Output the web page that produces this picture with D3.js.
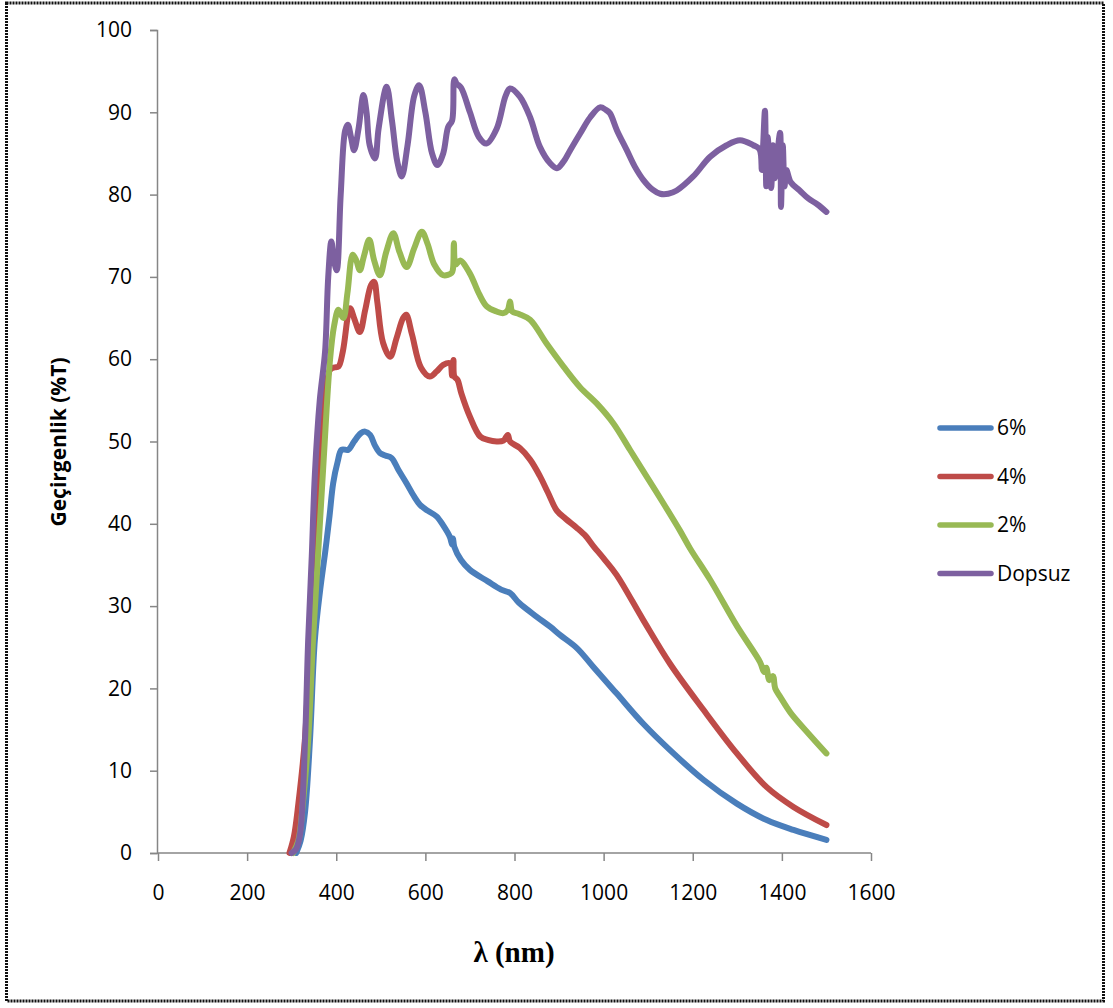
<!DOCTYPE html>
<html>
<head>
<meta charset="utf-8">
<script src="https://cdn.jsdelivr.net/npm/d3@7"></script>
<style>
  body { margin: 0; background: #fff; }
  svg { display: block; }
</style>
</head>
<body>
<div id="chart"></div>
<script>
// series values: [wavelength nm, transmittance %]
const seriesNames = ["6%", "4%", "2%", "Dopsuz"];
const seriesColors = ["#4a7ebb", "#be4b48", "#98b954", "#7d60a0"];

const data6 = [[310,0],[320,1.5],[330,5],[341,13.7],[352,25.9],[364,32],[375,36.5],[385,41],[393,44.9],[403,47.5],[412,49],[427,49],[440,50],[455,51],[465,51.2],[476,50.8],[487,49.5],[498,48.6],[510,48.3],[524,48],[540,46.5],[558,44.9],[575,43.3],[588,42.3],[605,41.6],[625,40.9],[640,39.8],[655,38.4],[660,37.5],[662,38.2],[665,37.2],[680,35.6],[700,34.4],[740,33],[770,32],[790,31.6],[810,30.4],[850,28.7],[880,27.5],[902,26.5],[940,24.9],[977,22.6],[1029,19.4],[1089,15.7],[1149,12.5],[1224,8.9],[1299,6.0],[1366,4.0],[1426,2.8],[1500,1.6]];

const data4 = [[295,0],[305,2],[315,6],[330,14],[340,25],[350,37],[360,47],[372,54],[386,58.7],[395,59],[405,59.1],[415,61],[431,66.2],[440,65],[453,63.3],[465,66],[478,69],[485,69.4],[492,67],[505,62],[521,60.3],[535,62.5],[550,65],[557,65.4],[570,63],[590,59],[610,57.9],[625,58.5],[640,59.3],[655,59.5],[660,58],[663,59.9],[665,57.9],[672,57.5],[681,55.8],[700,53],[723,50.6],[740,50.2],[760,50],[775,50.1],[785,50.8],[790,50],[812,49.2],[835,47.8],[857,45.8],[875,43.8],[895,41.6],[915,40.6],[940,39.5],[960,38.5],[977,37.3],[1000,35.8],[1029,33.8],[1089,28.3],[1149,23],[1224,17.4],[1299,12.1],[1366,8],[1426,5.6],[1500,3.4]];

const data2 = [[303,0],[315,1.5],[325,6],[337,13.7],[348,26],[360,37],[372,48],[386,59.9],[395,64],[405,66],[416,65],[425,68],[437,72.7],[445,72],[453,70.8],[462,72.5],[474,74.5],[485,72],[498,70.2],[512,73],[528,75.3],[542,73],[558,71.2],[575,73.5],[592,75.5],[605,74],[620,71.5],[640,70.2],[659,70.5],[662,71],[664,74.1],[668,71.5],[678,72],[700,70.4],[720,68],[738,66.4],[760,65.8],[775,65.6],[785,66],[790,67],[795,65.8],[810,65.5],[835,64.8],[872,61.9],[910,59.1],[947,56.6],[985,54.6],[1022,52.2],[1059,49],[1097,45.7],[1134,42.5],[1171,39.2],[1194,37],[1239,33.2],[1300,27.5],[1351,23.2],[1360,22],[1365,22.5],[1372,21],[1380,21.5],[1385,20],[1396,19],[1420,17],[1460,14.5],[1500,12.1]];

const data0 = [[300,0],[310,0.5],[319,2.4],[330,13.7],[337,25.9],[345,36],[352,46],[363,55],[375,61],[382,70],[389,74.3],[395,72],[401,70.8],[410,80],[420,87.8],[426,88.5],[433,87],[440,85.4],[450,88],[461,92.1],[468,90],[475,86],[487,84.4],[495,88],[513,93.1],[525,89],[537,84],[547,82.2],[560,86],[575,92],[586,93.3],[600,90],[615,85],[627,83.6],[640,85],[651,88.2],[660,89],[665,94],[670,93.5],[680,93],[700,90],[720,87],[737,86.2],[760,88],[780,92],[790,92.9],[812,91.9],[835,89.4],[857,85.8],[880,83.8],[895,83.2],[910,84],[925,85.4],[947,87.4],[970,89.4],[992,90.6],[1005,90.3],[1014,89.9],[1030,87.8],[1052,85.4],[1070,83.4],[1089,81.8],[1110,80.6],[1127,80.1],[1145,80.1],[1164,80.5],[1201,82.2],[1239,84.6],[1276,86],[1306,86.6],[1336,86],[1350,85.5],[1355,83],[1358,86],[1362,90.2],[1365,81],[1368,87],[1372,84],[1376,80.8],[1380,86],[1384,82],[1390,85],[1396,87.5],[1398,78.5],[1402,86],[1406,81],[1410,83],[1420,81.5],[1440,80.5],[1460,79.5],[1480,78.8],[1500,77.9]];

const allSeries = [data6, data4, data2, data0];
const xTicks = [0, 200, 400, 600, 800, 1000, 1200, 1400, 1600];
const yTicks = [0, 10, 20, 30, 40, 50, 60, 70, 80, 90, 100];

const width = 1113, height = 1008;
const plotLeft = 157, plotRight = 871, plotTop = 30, plotBottom = 853;

const svg = d3.select("#chart").append("svg")
  .attr("width", width)
  .attr("height", height);

// outer frame
svg.append("rect")
  .attr("x", 6.5).attr("y", 3)
  .attr("width", 1097).attr("height", 998)
  .attr("fill", "none")
  .attr("stroke", "#111")
  .attr("stroke-width", 3)
  .attr("stroke-dasharray", "2,1");

const x = d3.scaleLinear().domain([0, 1600]).range([plotLeft + 1, plotRight]);
const y = d3.scaleLinear().domain([0, 100]).range([plotBottom, plotTop]);

// y axis
const yAxis = svg.append("g")
  .attr("transform", "translate(" + plotLeft + ",0)")
  .call(d3.axisLeft(y).tickValues(yTicks).tickSize(7).tickPadding(18));
// x axis
const xAxis = svg.append("g")
  .attr("transform", "translate(0," + plotBottom + ")")
  .call(d3.axisBottom(x).tickValues(xTicks).tickFormat(d3.format("d")).tickSize(8).tickPadding(24));

[yAxis, xAxis].forEach(g => {
  g.select(".domain").attr("stroke", "#868686").attr("stroke-width", 1.5);
  g.selectAll(".tick line").attr("stroke", "#868686").attr("stroke-width", 1.5);
  g.selectAll("text")
    .attr("fill", "#000")
    .style("font-family", "'Open Sans', sans-serif")
    .style("font-size", "21px");
});
xAxis.select(".domain").attr("d", "M" + plotLeft + ",0H" + plotRight);

// lines
const line = d3.line()
  .x(d => x(d[0]))
  .y(d => y(d[1]))
  .curve(d3.curveCatmullRom.alpha(0.5));

allSeries.forEach((s, i) => {
  svg.append("path")
    .datum(s)
    .attr("d", line)
    .attr("fill", "none")
    .attr("stroke", seriesColors[i])
    .attr("stroke-width", 6)
    .attr("stroke-linejoin", "round")
    .attr("stroke-linecap", "round");
});

// axis titles
svg.append("text")
  .attr("x", 514).attr("y", 962)
  .attr("text-anchor", "middle")
  .style("font-family", "'Liberation Serif', 'Times New Roman', serif")
  .style("font-weight", "bold")
  .style("font-size", "29px")
  .text("λ (nm)");

svg.append("text")
  .attr("transform", "translate(66,442) rotate(-90)")
  .attr("text-anchor", "middle")
  .style("font-family", "'Open Sans', sans-serif")
  .style("font-weight", "bold")
  .style("font-size", "21px")
  .text("Geçirgenlik (%T)");

// legend
const legend = svg.append("g");
seriesNames.forEach((name, i) => {
  const ly = 428 + i * 48.5;
  legend.append("line")
    .attr("x1", 940).attr("x2", 991)
    .attr("y1", ly).attr("y2", ly)
    .attr("stroke", seriesColors[i])
    .attr("stroke-width", 5.5)
    .attr("stroke-linecap", "round");
  legend.append("text")
    .attr("x", 997).attr("y", ly)
    .attr("dy", "0.35em")
    .style("font-family", "'Open Sans', sans-serif")
    .style("font-size", "21px")
    .text(name);
});
</script>
</body>
</html>
